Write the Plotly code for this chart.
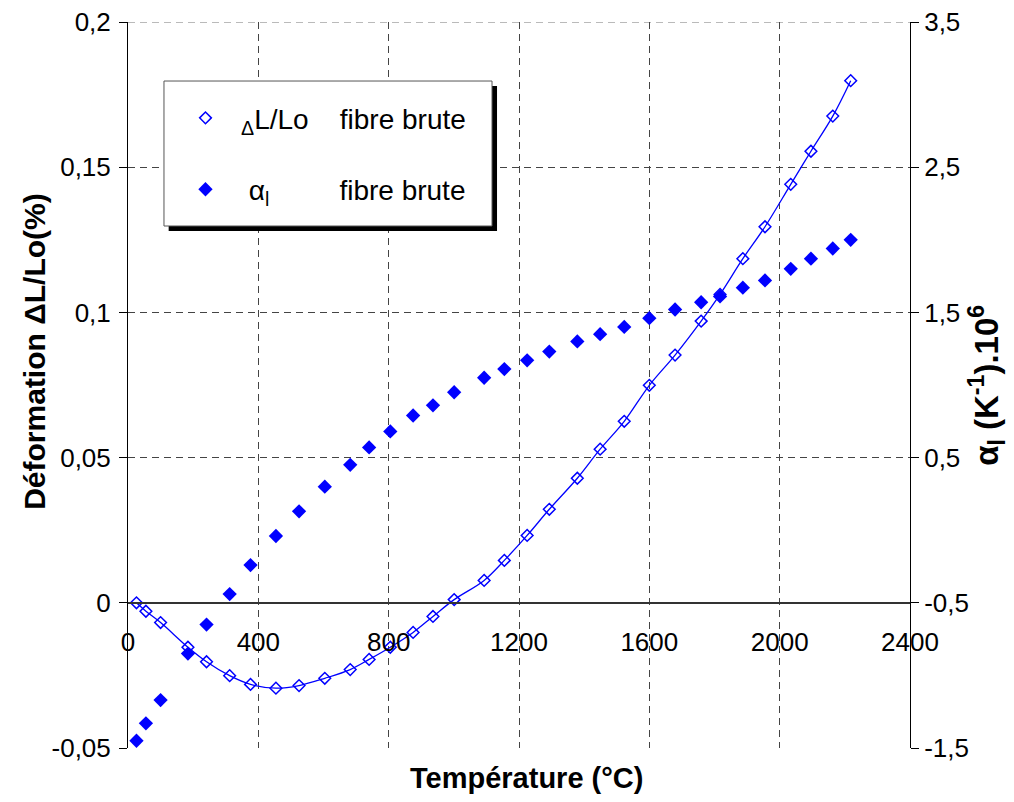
import plotly.graph_objects as go

# ---- data ----
temperature = [26, 55, 100, 184, 241, 312, 376, 454, 525, 604, 682, 740, 805, 875, 936,
               1001, 1093, 1155, 1225, 1293, 1379, 1449, 1523, 1600, 1679, 1759, 1817,
               1887, 1955, 2034, 2096, 2163, 2218]

deformation = [0.0000, -0.0029, -0.0068, -0.0153, -0.0203, -0.0251, -0.0281, -0.0294,
               -0.0285, -0.0260, -0.0230, -0.0195, -0.0153, -0.0102, -0.0047, 0.0011,
               0.0077, 0.0146, 0.0232, 0.0322, 0.0429, 0.0529, 0.0625, 0.0749, 0.0853,
               0.0970, 0.1062, 0.1185, 0.1295, 0.1441, 0.1555, 0.1676, 0.1798]

alpha = [-1.45, -1.33, -1.17, -0.85, -0.65, -0.44, -0.24, -0.04, 0.13, 0.30, 0.45, 0.57,
         0.68, 0.79, 0.86, 0.95, 1.05, 1.11, 1.17, 1.23, 1.30, 1.35, 1.40, 1.46, 1.52,
         1.57, 1.61, 1.67, 1.72, 1.80, 1.87, 1.94, 2.00]

x_ticks = [0, 400, 800, 1200, 1600, 2000, 2400]
x_ticktext = ["0", "400", "800", "1200", "1600", "2000", "2400"]
y_ticks = [-0.05, 0, 0.05, 0.1, 0.15, 0.2]
y_ticktext = ["-0,05", "0", "0,05", "0,1", "0,15", "0,2"]
y2_ticks = [-1.5, -0.5, 0.5, 1.5, 2.5, 3.5]
y2_ticktext = ["-1,5", "-0,5", "0,5", "1,5", "2,5", "3,5"]

NB = "\u00a0"
name_dl = NB * 2 + "<sub>Δ</sub>L/Lo" + NB * 4 + "fibre brute"
name_alpha = NB * 3 + "α<sub>l</sub>" + NB * 9 + "fibre brute"

FONT = "Liberation Sans, Arial, sans-serif"
BLUE = "#0000FF"

fig = go.Figure()

fig.add_trace(go.Scatter(
    x=temperature, y=deformation, mode="lines",
    line=dict(color=BLUE, width=1.3, shape="spline", smoothing=1.0),
    showlegend=False, hoverinfo="skip"))

fig.add_trace(go.Scatter(
    x=temperature, y=deformation, mode="markers", name=name_dl,
    marker=dict(symbol="diamond-open", size=9, color=BLUE, line=dict(width=1.5, color=BLUE)),
    legendgroup="a"))

fig.add_trace(go.Scatter(
    x=temperature, y=alpha, mode="markers", name=name_alpha, yaxis="y2",
    marker=dict(symbol="diamond", size=11, color=BLUE),
    legendgroup="b"))

grid_col = "#444444"
grid_dash = "7px,5px"

# page body has an 8px margin: the figure is sized so the plot area lands at 128..910 x 22..748
fig.update_layout(
    width=1006, height=794,
    margin=dict(l=120, r=104, t=14, b=54),
    plot_bgcolor="white", paper_bgcolor="white",
    font=dict(family=FONT, size=26, color="black"),
    xaxis=dict(
        range=[0, 2400], tickvals=x_ticks, ticktext=x_ticktext,
        anchor="free", position=0.2,
        showline=True, linecolor="#333333", linewidth=1.5,
        ticks="", ticklabelstandoff=16,
        showgrid=True, gridcolor=grid_col, griddash=grid_dash, gridwidth=1,
        zeroline=False, tickfont=dict(size=26), ticklabeloverflow="allow",
    ),
    yaxis=dict(
        range=[-0.05, 0.2], tickvals=y_ticks, ticktext=y_ticktext,
        showline=True, linecolor="black", linewidth=1,
        ticks="outside", ticklen=8, tickcolor="black", ticklabelstandoff=3,
        showgrid=True, gridcolor=grid_col, griddash=grid_dash, gridwidth=1,
        zeroline=False, tickfont=dict(size=26), ticklabeloverflow="allow",
        automargin=False,
    ),
    yaxis2=dict(
        range=[-1.5, 3.5], tickvals=y2_ticks, ticktext=y2_ticktext,
        overlaying="y", side="right",
        showline=True, linecolor="black", linewidth=1,
        ticks="outside", ticklen=8, tickcolor="black",
        showgrid=False, zeroline=False, tickfont=dict(size=26), ticklabeloverflow="allow",
        automargin=False,
    ),
    legend=dict(
        x=0.0735, y=0.902, xanchor="left", yanchor="top",
        bgcolor="rgba(0,0,0,0)", borderwidth=0,
        font=dict(size=28), tracegroupgap=32,
    ),
    showlegend=True,
)

# top gridline (plotly drops gridlines lying on the plot edge)
fig.add_shape(type="line", xref="paper", yref="y", x0=0, x1=1,
              y0=y_ticks[-1], y1=y_ticks[-1],
              line=dict(color="#777777", width=1, dash=grid_dash), layer="below")

# legend frame with shadow
fig.add_shape(type="rect", xref="paper", yref="paper",
              x0=0.052, x1=0.4719, y0=0.712, y1=0.912,
              fillcolor="black", line=dict(width=0), layer="above")
fig.add_shape(type="rect", xref="paper", yref="paper",
              x0=0.046, x1=0.4655, y0=0.719, y1=0.9187,
              fillcolor="white", line=dict(width=1, color="#555555"), layer="above")

# axis titles
fig.add_annotation(text="<b>Température (°C)</b>", xref="paper", yref="paper",
                   x=0.509, y=-0.041, showarrow=False, font=dict(size=29),
                   xanchor="center", yanchor="middle")
fig.add_annotation(text="<b>Déformation ΔL/Lo(%)</b>", xref="paper", yref="paper",
                   x=-0.119, y=0.547, showarrow=False, font=dict(size=30),
                   textangle=-90, xanchor="center", yanchor="middle")
fig.add_annotation(text="<b>α<sub>l</sub> (K<sup>-1</sup>).10<sup>6</sup></b>", xref="paper", yref="paper",
                   x=1.097, y=0.5, showarrow=False, font=dict(size=33),
                   textangle=-90, xanchor="center", yanchor="middle")

fig.write_html("out.html")
